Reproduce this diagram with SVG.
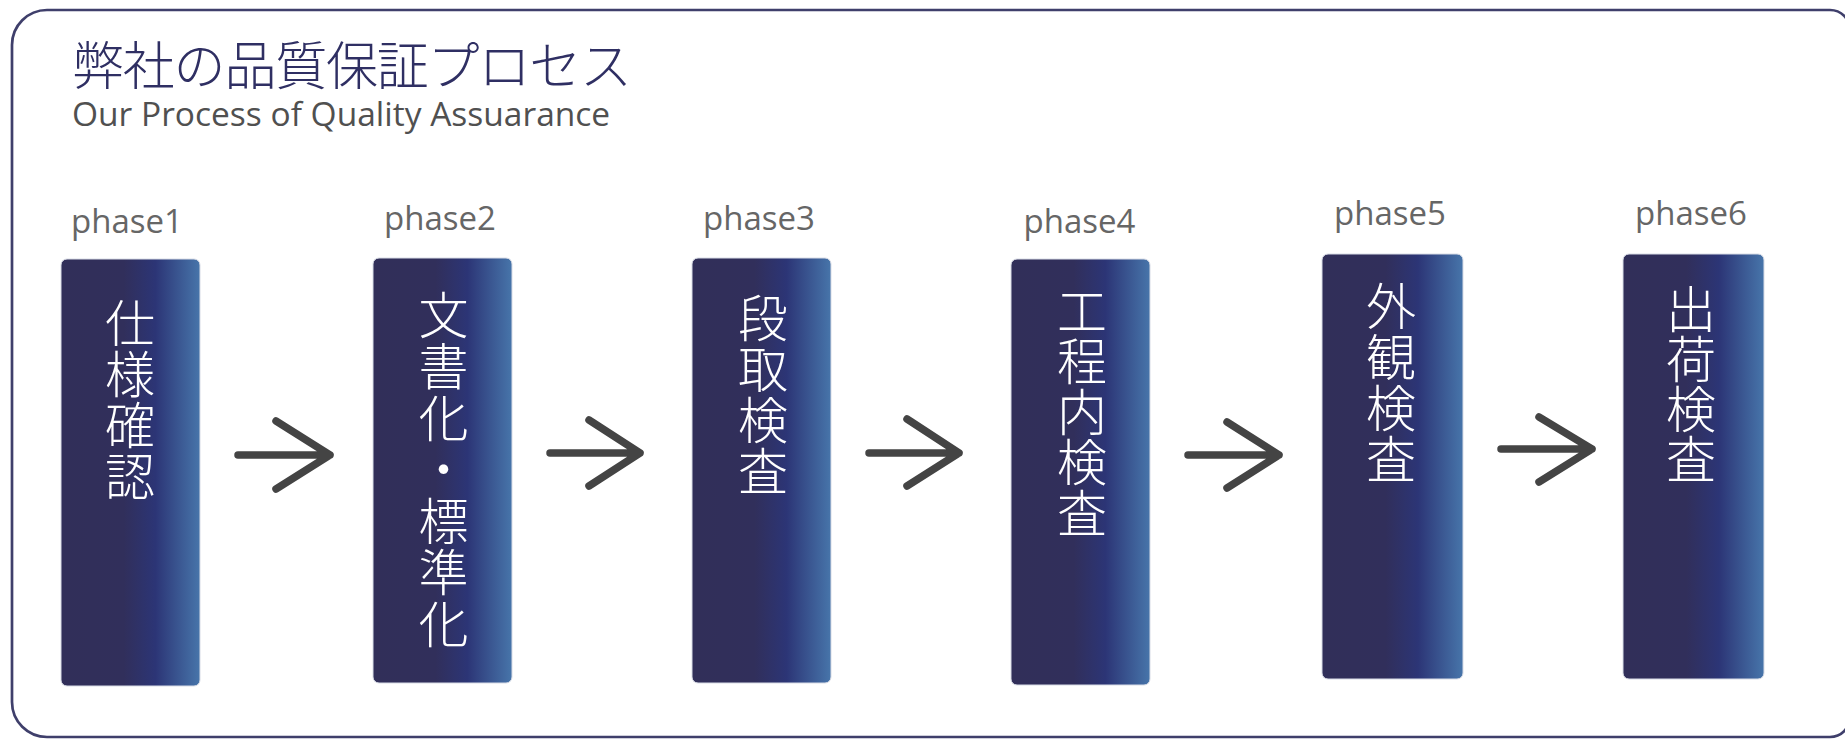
<svg xmlns="http://www.w3.org/2000/svg" width="1845" height="739" viewBox="0 0 1845 739">
<defs>
<linearGradient id="g" x1="0" y1="0" x2="1" y2="0">
<stop offset="0" stop-color="#312f59"/>
<stop offset="0.45" stop-color="#312f5b"/>
<stop offset="0.68" stop-color="#2c3576"/>
<stop offset="1" stop-color="#4775aa"/>
</linearGradient>
<style>
.box{fill:url(#g);stroke:#d8dce6;stroke-width:1}
.ph{font-family:"Open Sans","Noto Sans",sans-serif;font-size:33px;fill:#666;text-anchor:middle}
.jp{font-family:"Noto Sans CJK JP",sans-serif;font-size:50px;font-weight:300;fill:#fff;text-anchor:middle}
.ar{fill:none;stroke:#444;stroke-width:7.5;stroke-linecap:round;stroke-linejoin:round}
</style>
</defs>
<rect width="1845" height="739" fill="#fff"/>
<path d="M47,10 H1830 A20,20 0 0 1 1850,30 V717 A20,20 0 0 1 1830,737 H47 A35,35 0 0 1 12,702 V45 A35,35 0 0 1 47,10 Z" fill="none" stroke="#3f3f6b" stroke-width="2.7"/>
<text x="72" y="85" font-family="Noto Sans CJK JP, sans-serif" font-size="52" font-weight="300" fill="#2f2f63" textLength="560" lengthAdjust="spacing">弊社の品質保証プロセス</text>
<text x="72" y="126" font-family="Open Sans, Noto Sans, sans-serif" font-size="33.5" fill="#505050">Our Process of Quality Assuarance</text>
<g id="phase1">
<text class="ph" x="127" y="233">phase1</text>
<rect class="box" x="61" y="259" width="139" height="427" rx="6"/>
<text class="jp"><tspan x="130" y="341.5">仕</tspan><tspan x="130" dy="51">様</tspan><tspan x="130" dy="51">確</tspan><tspan x="130" dy="51">認</tspan></text>
</g>
<g id="phase2">
<text class="ph" x="440" y="230">phase2</text>
<rect class="box" x="373" y="258" width="139" height="425" rx="6"/>
<text class="jp"><tspan x="443.5" y="333.5">文</tspan><tspan x="443.5" dy="51.5">書</tspan><tspan x="443.5" dy="51.5">化</tspan><tspan x="443.5" dy="51.5">・</tspan><tspan x="443.5" dy="51.5">標</tspan><tspan x="443.5" dy="51.5">準</tspan><tspan x="443.5" dy="51.5">化</tspan></text>
</g>
<g id="phase3">
<text class="ph" x="759" y="230">phase3</text>
<rect class="box" x="692" y="258" width="139" height="425" rx="6"/>
<text class="jp"><tspan x="763" y="336.5">段</tspan><tspan x="763" dy="51">取</tspan><tspan x="763" dy="51">検</tspan><tspan x="763" dy="51">査</tspan></text>
</g>
<g id="phase4">
<text class="ph" x="1079.5" y="233">phase4</text>
<rect class="box" x="1011" y="259" width="139" height="426" rx="6"/>
<text class="jp"><tspan x="1082" y="329.5">工</tspan><tspan x="1082" dy="50.5">程</tspan><tspan x="1082" dy="50.5">内</tspan><tspan x="1082" dy="50.5">検</tspan><tspan x="1082" dy="50.5">査</tspan></text>
</g>
<g id="phase5">
<text class="ph" x="1390" y="225">phase5</text>
<rect class="box" x="1322" y="254" width="141" height="425" rx="6"/>
<text class="jp"><tspan x="1391" y="324.5">外</tspan><tspan x="1391" dy="51">観</tspan><tspan x="1391" dy="51">検</tspan><tspan x="1391" dy="51">査</tspan></text>
</g>
<g id="phase6">
<text class="ph" x="1691" y="225">phase6</text>
<rect class="box" x="1623" y="254" width="141" height="425" rx="6"/>
<text class="jp"><tspan x="1691" y="327.5">出</tspan><tspan x="1691" dy="50">荷</tspan><tspan x="1691" dy="50">検</tspan><tspan x="1691" dy="50">査</tspan></text>
</g>
<g id="connectors">
<path class="ar" d="M238,455 H330 M276,421 L330,455 L276,489"/>
<path class="ar" d="M550,453 H640 M589,420 L640,453 L589,486"/>
<path class="ar" d="M869,453 H959 M907,419 L959,453 L907,486"/>
<path class="ar" d="M1188,455 H1279 M1227,422 L1279,455 L1227,488"/>
<path class="ar" d="M1501,449 H1592 M1539,417 L1592,449 L1539,482"/>
</g>
</svg>
